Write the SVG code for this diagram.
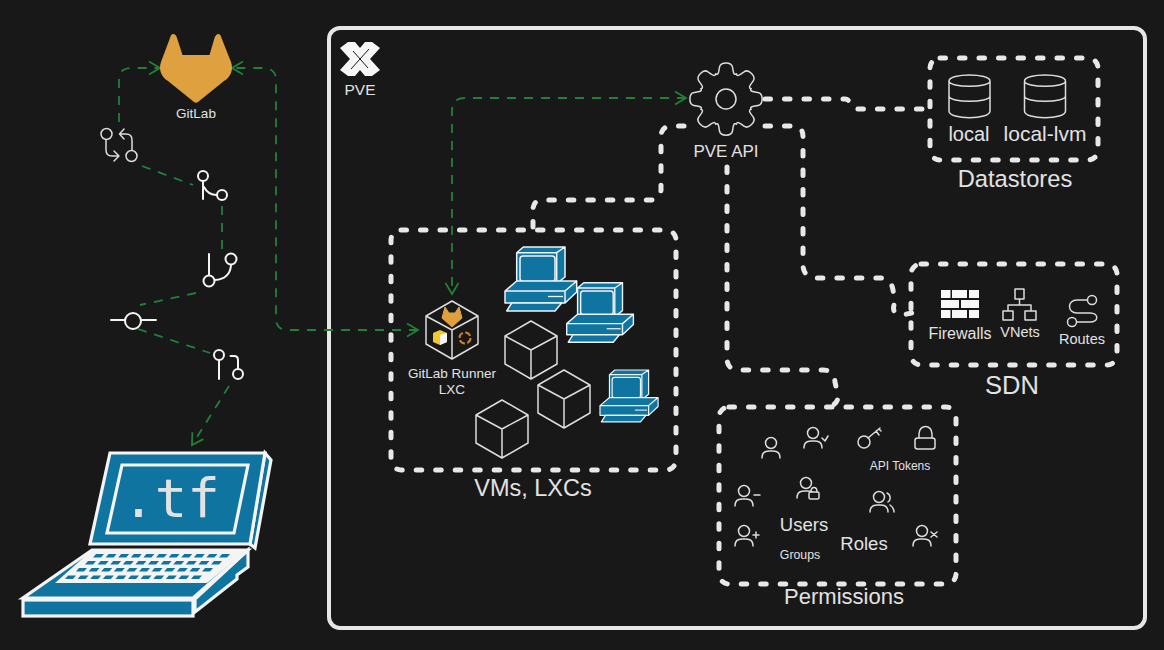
<svg xmlns="http://www.w3.org/2000/svg" width="1164" height="650" viewBox="0 0 1164 650">
<style>
text{font-family:"Liberation Sans",Arial,sans-serif;fill:#e2e2e2;text-anchor:middle}
.ln{fill:none;stroke:#dcdcdc;stroke-width:1.5;stroke-linecap:round;stroke-linejoin:round}
.w2{fill:none;stroke:#f4f4f4;stroke-width:2;stroke-linecap:round;stroke-linejoin:round}
.box{fill:none;stroke:#e8e8e8;stroke-width:5;stroke-linecap:round;stroke-dasharray:5.5 14}
.wc{fill:none;stroke:#e8e8e8;stroke-width:5;stroke-linecap:round;stroke-linejoin:round;stroke-dasharray:5.5 14}
.gc{fill:none;stroke:#1f8236;stroke-width:1.8;stroke-dasharray:9 8}
.blue{fill:#1074a0;stroke:#eef4f7;stroke-width:1.5;stroke-linejoin:round}
.lap{fill:#1074a0;stroke:#f4f4f4;stroke-width:3.2;stroke-linejoin:miter}
</style>
<defs>
<marker id="ga" markerUnits="userSpaceOnUse" markerWidth="16" markerHeight="16" refX="12" refY="8" orient="auto-start-reverse" overflow="visible">
<path d="M1 1.5L12 8L1 14.5" fill="none" stroke="#1f8236" stroke-width="1.8"/>
</marker>
<g id="cube"><path class="ln" d="M0-29L26-14V14L0 29L-26 14V-14ZM-26-14L0 0L26-14M0 0V29"/></g>
<g id="pc">
<path class="blue" d="M11.7 5.7L18.3 0H60L51.7 5.7ZM51.7 5.7L60 0V30L51.7 36.7ZM11.7 5.7H51.7V36.7H11.7Z"/>
<rect class="blue" x="15" y="9" width="35" height="25.500" rx="3"/>
<path class="blue" d="M0 44L11.7 34H71.7L60 44ZM60 44L71.7 34V45L60 56ZM0 44H60V56H0Z"/>
<path d="M43 49.500H58" stroke="#eef4f7" stroke-width="1.300"/>
<path class="blue" d="M1.700 64L6.700 56H56.700L50 64Z"/>
</g>
<g id="person"><circle class="ln" cx="0" cy="0" r="5.500"/><path class="ln" d="M-9 15C-9 7-2 8 0 8C2 8 9 7 9 15"/></g>
<path id="tooth" class="ln" d="M-10.300-25C-7-23-7-30-6.500-32C-5.500-37.500 5.500-37.500 6.500-32C7-30 7-23 10.300-25"/>
<g id="cyl"><path class="ln" d="M-20.500-9C-20.500-17 20.500-17 20.500-9V21C20.500 30-20.500 30-20.500 21ZM-20.500-9C-20.500-2 20.500-2 20.500-9M-20.500 6C-20.500 13 20.500 13 20.500 6"/></g>
<path id="keys" d="M0 0h8l-3 3.500h-8zm12.600 0h8l-3 3.500h-8zm12.600 0h8l-3 3.500h-8zm12.600 0h8l-3 3.500h-8zm12.600 0h8l-3 3.500h-8zm12.600 0h8l-3 3.500h-8zm12.600 0h8l-3 3.500h-8zm12.600 0h8l-3 3.500h-8zm12.600 0h8l-3 3.500h-8zm12.600 0h8l-3 3.500h-8zm12.600 0h8l-3 3.500h-8z" fill="#1074a0"/>
</defs>
<rect width="1164" height="650" fill="#181818"/>
<rect id="pve-frame" x="329" y="28" width="816" height="600" rx="11" fill="none" stroke="#e6e6e6" stroke-width="4"/>

<g id="connectors">
<path class="gc" marker-end="url(#ga)" d="M119 122V80Q119 68 131 68H160"/>
<path class="gc" marker-start="url(#ga)" marker-end="url(#ga)" d="M418 330H288Q276 330 276 318V80Q276 68 262 68H232"/>
<path class="gc" d="M142 166L193 185"/>
<path class="gc" d="M222 206V250"/>
<path class="gc" d="M196 293L140 305"/>
<path class="gc" d="M138 329L210 353"/>
<path class="gc" marker-end="url(#ga)" d="M229 386L192 445"/>
<path class="gc" marker-start="url(#ga)" marker-end="url(#ga)" d="M686 98H465Q452 98 452 111V294"/>
<path class="wc" d="M765 99H845Q849 99 850 104Q852 109 858 109H925"/>
<path class="wc" d="M684 126H672Q661 126 661 137V190Q660 200 650 200H543Q533 200 533 210V228"/>
<path class="wc" d="M765 126H793Q803 126 803 137V266Q804 277 815 278H880Q891 278 893 290L895 302Q890 314 902 315L912 313"/>
<path class="wc" d="M727 167V358Q727 370 739 370H823Q834 370 835 382L838 396Q838 404 830 406"/>
</g>

<g id="gitlab">
<path d="M173 34Q176 34 177 38L182.500 55H209.500L214.500 38Q216 34 218.500 34Q220.500 34 221.500 38L231 62Q233 68 231 73Q229 78 224 81L198 102Q196 103.500 194 102L168 81Q163 78 161 73Q159 68 161 62L170 38Q171 34 173 34Z" fill="#dfa040"/>
<text x="196" y="118" font-size="13.500">GitLab</text>
</g>
<g id="git-pr">
<circle class="ln" cx="106.500" cy="134" r="5.500"/><circle class="ln" cx="131.500" cy="156" r="5.500"/>
<path class="ln" d="M106 140V150Q106 156 112 156H118M114 151L119 156L114 161M132 150V140Q132 134 126 134H120M124 129L119.500 134L124 139"/>
</g>
<g id="git-merge">
<circle class="w2" cx="203" cy="176" r="5"/><circle class="w2" cx="222" cy="195" r="5"/>
<path class="w2" d="M203 181V199M204 187Q208 195 217 195"/>
</g>
<g id="git-branch">
<circle class="w2" cx="209" cy="281" r="5.500"/><circle class="w2" cx="231" cy="259" r="5.500"/>
<path class="w2" d="M209 254V275M231 265Q230 279 215 280"/>
</g>
<g id="git-commit">
<circle class="w2" cx="133" cy="321" r="8"/><path class="w2" d="M111 320H125M142 320H156"/>
</g>
<g id="git-mr">
<circle class="w2" cx="219" cy="355" r="5"/><circle class="w2" cx="238" cy="374" r="5"/>
<path class="w2" d="M219 360V379M230.500 356H234Q238 356 238 360V369"/>
</g>

<g id="laptop">
<path class="lap" d="M265 453L271 460L255 548L250 544Z"/>
<path class="lap" d="M110 453H265L250 544H90Z"/>
<path d="M122 465H248L234 533H107Z" fill="none" stroke="#f4f4f4" stroke-width="3.200"/>
<text x="171" y="517" font-size="54" style="font-family:'DejaVu Sans Mono',monospace">.tf</text>
<path class="lap" d="M248 550V567L237 575V579L195 612V599Z"/>
<path class="lap" d="M92 550H248L193 598H23Z"/>
<path d="M92 550H247L207 583H55Z" fill="#f4f4f4"/>
<rect class="lap" x="23" y="600" width="170" height="16"/>
<use href="#keys" x="96" y="554"/><use href="#keys" x="88" y="561"/><use href="#keys" x="79" y="568"/><use href="#keys" x="68" y="575.500"/>
</g>

<g id="pve-logo">
<path d="M348 42H355L360 48L365 42H372L380 48L370 59L380 70L372 76H365L360 70L355 76H348L340 70L350 59L340 48Z" fill="#f6f6f6"/>
<path d="M353 51L368 68M351 69L369 49" stroke="#181818" stroke-width="1" fill="none"/>
<text x="360" y="95" font-size="15.500">PVE</text>
</g>
<g id="pve-api">
<g transform="translate(726 99)">
<use href="#tooth"/><use href="#tooth" transform="rotate(45)"/><use href="#tooth" transform="rotate(90)"/><use href="#tooth" transform="rotate(135)"/><use href="#tooth" transform="rotate(180)"/><use href="#tooth" transform="rotate(225)"/><use href="#tooth" transform="rotate(270)"/><use href="#tooth" transform="rotate(315)"/>
<circle class="ln" r="10"/>
</g>
<text x="726" y="157" font-size="17">PVE API</text>
</g>

<g id="datastores">
<rect class="box" x="930" y="58" width="168" height="102" rx="10"/>
<use href="#cyl" x="969.500" y="90"/><use href="#cyl" x="1045" y="90"/>
<text x="969" y="141" font-size="20">local</text>
<text x="1045" y="141" font-size="21">local-lvm</text>
<text x="1015" y="187" font-size="23.700">Datastores</text>
</g>

<g id="sdn">
<rect class="box" x="911" y="264" width="206" height="101" rx="10"/>
<path d="M941 290H950.500V298H941ZM952 290H967V298H952ZM969 290H979V298H969ZM941 300H959V308H941ZM961 300H979V308H961ZM941 310H950.500V318H941ZM952 310H967V318H952ZM969 310H979V318H969Z" fill="#f8f8f8"/>
<path class="ln" d="M1015 289H1024V299H1015ZM1019.500 299V305M1008 305H1031M1008 305V311M1031 305V311M1003 311H1013V320H1003ZM1025 311H1036V320H1025Z"/>
<circle class="ln" cx="1092" cy="300" r="4.500"/><circle class="ln" cx="1072" cy="322" r="4.500"/>
<path class="ln" d="M1087 300H1077C1067 300 1067 313 1077 313H1090C1099 313 1099 322 1090 322H1077"/>
<text x="960" y="339" font-size="16">Firewalls</text>
<text x="1020" y="337" font-size="14.500">VNets</text>
<text x="1082" y="344" font-size="14.500">Routes</text>
<text x="1012" y="394" font-size="25.500">SDN</text>
</g>

<g id="vms-lxcs">
<rect class="box" x="391" y="230" width="285" height="240" rx="10"/>
<use href="#pc" x="505" y="247"/>
<use href="#pc" transform="translate(566.700 282.700) scale(.93)"/>
<use href="#pc" transform="translate(600 370) scale(.81)"/>
<use href="#cube" x="531" y="350"/><use href="#cube" x="564" y="399"/><use href="#cube" x="502" y="429"/>
<text x="533" y="496" font-size="23.500">VMs, LXCs</text>
</g>

<g id="gitlab-runner">
<use href="#cube" x="452" y="330"/>
<path d="M445 307L449 313H455L459 307L462 318L452 327L442 318Z" fill="#dfa040" stroke="#dfa040" stroke-linejoin="round"/>
<path d="M433 333L440 330L447 333V342L440 345L433 342Z" fill="#f2c82e"/>
<path d="M440 335L447 333V342L440 345Z" fill="#f6f6f6"/>
<circle cx="465" cy="338" r="5.500" fill="none" stroke="#c9822a" stroke-width="2" stroke-dasharray="6 2.500"/>
<text x="452" y="378" font-size="13.500">GitLab Runner</text>
<text x="452" y="394" font-size="13.500">LXC</text>
</g>

<g id="permissions">
<rect class="box" x="719" y="407" width="237" height="177" rx="10"/>
<use href="#person" x="771" y="443"/>
<use href="#person" x="813" y="433"/><path class="ln" d="M822 438L825 441L828 436"/>
<use href="#person" x="744" y="491"/><path class="ln" d="M754 495H760"/>
<use href="#person" x="744" y="531"/><path class="ln" d="M753 535H759M756 532V538"/>
<use href="#person" x="806" y="483"/><rect x="809" y="492" width="10" height="7" rx="1.500" fill="#181818" stroke="#dcdcdc" stroke-width="1.500"/><path class="ln" d="M811 492C811 486 817 486 817 492"/>
<use href="#person" x="922" y="531"/><path class="ln" d="M931 532L937 537M937 532L931 537"/>
<use href="#person" x="879" y="497"/><path class="ln" d="M887 493C891 495 891 500 888 502M890 505C893 507 894 510 894 512"/>
<circle class="ln" cx="864" cy="442" r="6"/><path class="ln" d="M868 438L880 428M876 431L879 435M879 429L881 431"/>
<rect class="ln" x="915" y="438" width="20" height="11" rx="2.500"/><path class="ln" d="M919 438V434C919 424 932 424 932 434V438"/>
<text x="900" y="470" font-size="12">API Tokens</text>
<text x="804" y="531" font-size="18.500">Users</text>
<text x="800" y="559" font-size="12.300">Groups</text>
<text x="864" y="550" font-size="18.500">Roles</text>
<text x="844" y="604" font-size="22">Permissions</text>
</g>
</svg>
